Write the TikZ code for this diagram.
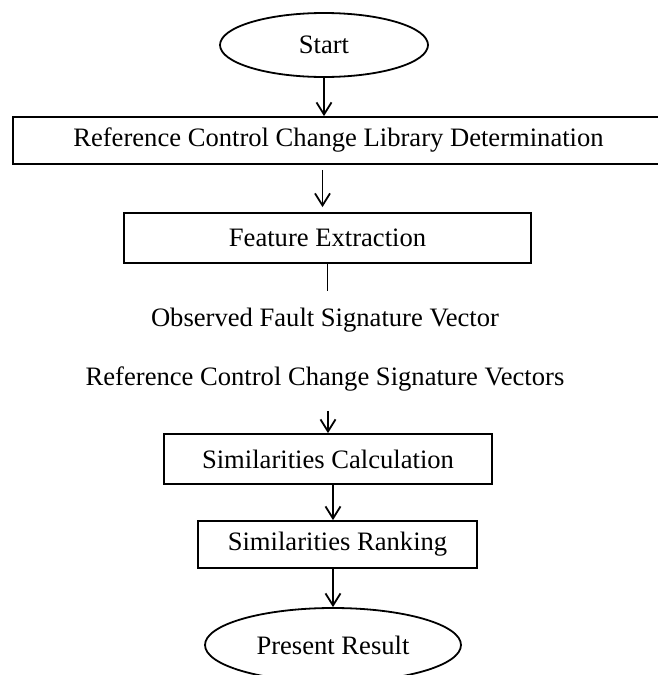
\documentclass[tikz,border=0pt]{standalone}
\usepackage{fontspec}
\setmainfont{Liberation Serif}
\usepackage{tikz}
\usetikzlibrary{arrows.meta,positioning,shapes.geometric}

\begin{document}
\begin{tikzpicture}[x=0.5pt,y=-0.5pt,line width=0.9pt,
		font=\fontsize{13.3pt}{16pt}\selectfont,
		term/.style={draw, ellipse, inner sep=0pt},
		stepbox/.style={draw, rectangle, inner sep=0pt},
		flow/.style={-{Straight Barb[length=6pt,width=7.5pt]}}]
			\useasboundingbox (0,0) rectangle (658,675);
			\clip (0,0) rectangle (658,675);

			\node[term, minimum width=104pt, minimum height=32pt] (start) at (324,45) {Start};
			\node[stepbox, minimum width=325.5pt, minimum height=23.5pt, below of=start, node distance=47.75pt, xshift=7.25pt] (lib) {Reference Control Change Library Determination};
			\node[stepbox, minimum width=203.5pt, minimum height=25pt, below of=lib, node distance=48.75pt, xshift=-5.5pt] (feat) {Feature Extraction};
			\node[below of=feat, node distance=41pt, xshift=-1.25pt] (obs) {Observed Fault Signature Vector};
			\node[below of=obs, node distance=29.5pt] (refvec) {Reference Control Change Signature Vectors};
			\node[stepbox, minimum width=164pt, minimum height=25pt, below of=refvec, node distance=40pt, xshift=1.5pt] (calc) {Similarities Calculation};
			\node[stepbox, minimum width=139.5pt, minimum height=23.5pt, below of=calc, node distance=42.75pt, xshift=4.75pt] (rank) {Similarities Ranking};
			\node[term, minimum width=128pt, minimum height=37pt, below of=rank, node distance=50.25pt, xshift=-2.25pt] (present) {Present Result};

			\draw[flow] (start) -- (start |- lib.north);
			\draw[flow, shorten <=2.5pt, shorten >=2.5pt] ([xshift=-2.5pt]lib.south -| feat.north) -- ([xshift=-2.5pt]feat.north);
			\draw[shorten >=4.5pt] (feat.south) -- (feat.south |- obs.north);
			\draw[flow, shorten <=6pt] (refvec.south -| calc.north) -- (calc);
			\draw[flow] (calc.south -| present.north) -- (rank.north -| present.north);
			\draw[flow] (rank.south -| present.north) -- (present);
		\end{tikzpicture}
\end{document}
